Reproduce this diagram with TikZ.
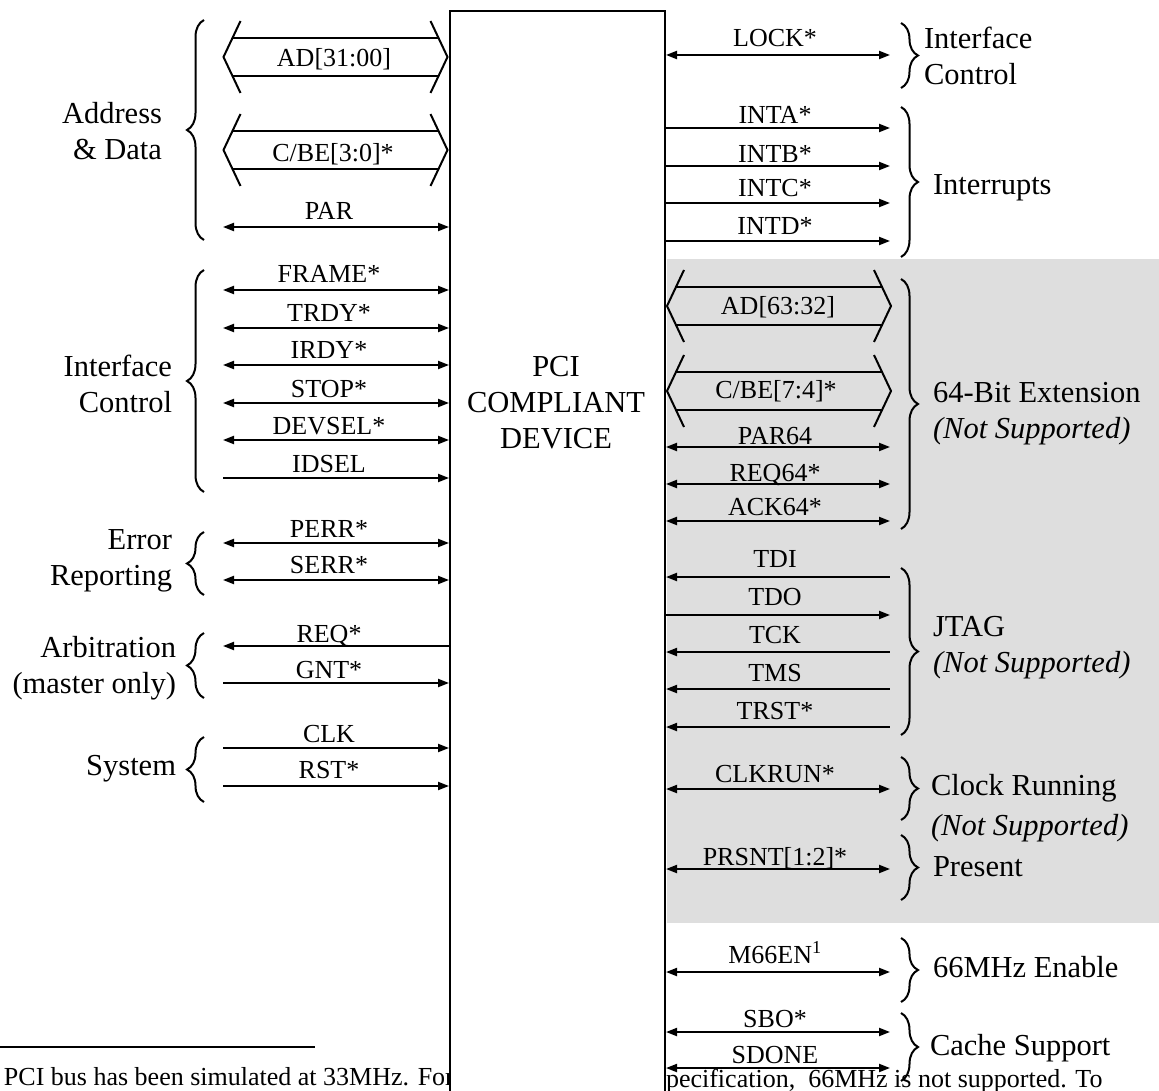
\documentclass[tikz,border=0pt]{standalone}
\usepackage{fontspec}
\setmainfont{Liberation Serif}
\usetikzlibrary{arrows.meta,decorations.pathreplacing}

\definecolor{unsup}{RGB}{222,222,222}

\begin{document}
\begin{tikzpicture}[x=1pt,y=-1pt,line width=2pt,
  >={Triangle[length=11pt,width=8pt]},
  sig/.style={font=\fontsize{26}{28}\selectfont,inner sep=0pt,anchor=base},
  grp/.style={font=\fontsize{30.5}{36}\selectfont,inner sep=0pt},
  note/.style={font=\fontsize{26}{30}\selectfont,inner sep=0pt,anchor=base west},
  brc/.style={decorate,decoration={brace,amplitude=17pt}},
  bus/.pic={
    \draw (-95,-36) -- (-112,0) -- (-95,36);
    \draw (95,-36) -- (112,0) -- (95,36);
    \draw (-103,-19) -- (103,-19);
    \draw (-103,19) -- (103,19);
  }]

\useasboundingbox (0,0) rectangle (1159,1091);
\clip (0,0) rectangle (1159,1091);

% shaded part: signals not supported
\fill[unsup] (667,259) rectangle (1159,923);

% footnote, partly hidden by the device
\draw[line width=1.5pt] (0,1047) -- (315,1047);
\node[note] (fnA) at (3,1085) {PCI bus has been simulated at 33MHz. For};
\node[note] (fnB) at (665,1087) {pecification,\ \ 66MHz is not supported. To};

\node[draw,fill=white,minimum width=215pt,minimum height=1100pt,
  anchor=north west,inner sep=0pt] (dev) at (449,10) {};
\node[grp,align=center,anchor=base] (devtxt) at (556,448) {PCI\\COMPLIANT\\DEVICE};

% left side
\pic at (335.5,57) {bus};
\node[sig] (ad) at (334,67) {AD[31:00]};
\pic at (335.5,150) {bus};
\node[sig] (cbe) at (333,162) {C/BE[3:0]*};

\foreach \y/\b/\txt/\dir [count=\i] in {
  227/220/PAR/<->, 290/283/FRAME*/<->, 328/321/TRDY*/<->,
  365/358/IRDY*/<->, 403/397/STOP*/<->, 440/434/DEVSEL*/<->,
  478/472/IDSEL/->, 543/537/PERR*/<->, 580/573/SERR*/<->,
  646/642/REQ*/<-, 683/678/GNT*/->, 748/742/CLK/->, 786/778/RST*/->}{
  \coordinate (L\i) at (223,\y);
  \draw[\dir] (L\i) -- (L\i -| dev.west);
  \node[sig] (Ls\i) at (329,\b) {\txt};
}

\draw[brc] (204,240) -- (204,20);
\draw[brc] (204,492) -- (204,270);
\draw[brc] (204,595) -- (204,532);
\draw[brc] (204,698) -- (204,633);
\draw[brc] (204,802) -- (204,737);

\node[grp,align=right,anchor=base east] (gAD) at (163,160) {Address\\\& Data};
\node[grp,align=right,anchor=base east] (gIC) at (173,412) {Interface\\Control};
\node[grp,align=right,anchor=base east] (gER) at (173,585) {Error\\Reporting};
\node[grp,align=right,anchor=base east] (gAR) at (177,693) {Arbitration\\(master only)};
\node[grp,anchor=base east] (gSY) at (177,775) {System};

% right side
\pic at (779,306) {bus};
\node[sig] (ad64) at (778,315) {AD[63:32]};
\pic at (779,391) {bus};
\node[sig] (cbe64) at (776,398) {C/BE[7:4]*};

\foreach \y/\b/\txt/\dir [count=\i] in {
  55/47/LOCK*/<->, 128/124/INTA*/->, 166/163/INTB*/->,
  203/197/INTC*/->, 241/235/INTD*/->, 447/444/PAR64/<->,
  484/481/REQ64*/<->, 521/515/ACK64*/<->, 577/567/TDI/<-,
  615/605/TDO/->, 652/643/TCK/<-, 689/681/TMS/<-, 727/719/TRST*/<-,
  789/782/CLKRUN*/<->, 869/865/{PRSNT[1:2]*}/<->,
  972/963/M66EN\textsuperscript{1}/<->, 1032/1027/SBO*/<->,
  1068/1063/SDONE/<->}{
  \coordinate (R\i) at (890,\y);
  \draw[\dir] (R\i -| dev.east) -- (R\i);
  \node[sig] (Rs\i) at (775,\b) {\txt};
}

\draw[brc] (901,23) -- (901,88);
\draw[brc] (901,107) -- (901,257);
\draw[brc] (901,279) -- (901,529);
\draw[brc] (901,568) -- (901,735);
\draw[brc] (901,757) -- (901,820);
\draw[brc] (901,835) -- (901,900);
\draw[brc] (901,938) -- (901,1002);
\draw[brc] (901,1013) -- (901,1081);

\node[grp,align=left,anchor=base west] (gLK) at (923,85) {Interface\\Control};
\node[grp,anchor=base west] (gIN) at (932,195) {Interrupts};
\node[grp,align=left,anchor=base west] (g64) at (932,438) {64-Bit Extension\\\textit{(Not Supported)}};
\node[grp,align=left,anchor=base west] (gJT) at (932,672) {JTAG\\\textit{(Not Supported)}};
\node[grp,align=left,anchor=base west] (gCR) at (930,835) {Clock Running\\[4pt]\textit{(Not Supported)}};
\node[grp,anchor=base west] (gPR) at (932,876) {Present};
\node[grp,anchor=base west] (g66) at (932,977) {66MHz Enable};
\node[grp,anchor=base west] (gCS) at (929,1055) {Cache Support};

\end{tikzpicture}
\end{document}
